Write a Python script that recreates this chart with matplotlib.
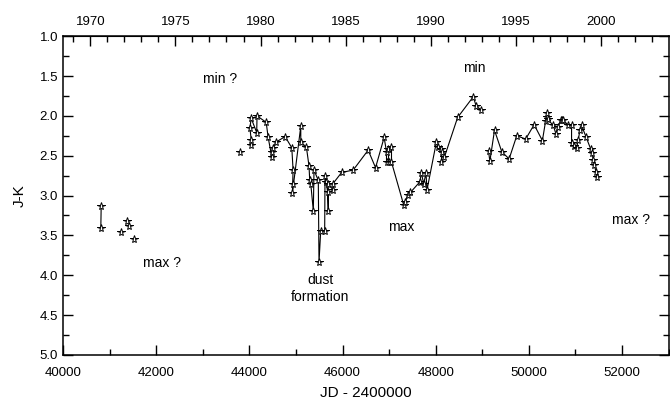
import numpy as np
import matplotlib
matplotlib.use("Agg")
import matplotlib.pyplot as plt
from matplotlib.ticker import MultipleLocator, FixedLocator, FormatStrFormatter

plt.rcParams['font.family'] = ['Liberation Sans', 'DejaVu Sans']

# J-K light curve, JD - 2400000
# first two points joined by a line
pair_jd = [40820, 40812]
pair_jk = [3.13, 3.41]

# lone points (not joined)
single_jd = [41237, 41372, 41414, 41530, 43805]
single_jk = [3.46, 3.32, 3.38, 3.55, 2.45]

# main joined run 1979-1993
main_jd = [44040, 44040, 44012, 44040, 44158, 44165, 44361, 44404, 44483,
           44496, 44517, 44569, 44768, 44911, 44939, 44930, 44924, 45104,
           45104, 45224, 45281, 45296, 45318, 45373, 45388, 45480, 45495,
           45532, 45617, 45624, 45652, 45680, 45694, 45694, 45795, 45795,
           45981, 46229, 46550, 46709, 46893, 46944, 46944, 46993, 46980,
           47051, 47051, 47314, 47350, 47400, 47458, 47657, 47693, 47742,
           47792, 47813, 48014, 48048, 48121, 48134, 48121, 48185, 48470,
           48806, 48870, 48969]
main_jk = [2.37, 2.30, 2.15, 2.03, 2.21, 2.00, 2.08, 2.27, 2.52,
           2.45, 2.40, 2.33, 2.26, 2.40, 2.68, 2.85, 2.97, 2.13,
           2.33, 2.39, 2.63, 2.81, 2.85, 3.19, 2.68, 2.81, 3.84,
           3.44, 3.44, 2.75, 2.83, 2.96, 3.19, 2.85, 2.93, 2.85,
           2.71, 2.68, 2.43, 2.65, 2.27, 2.45, 2.58, 2.58, 2.41,
           2.39, 2.58, 3.12, 3.08, 2.99, 2.96, 2.83, 2.72, 2.85,
           2.72, 2.93, 2.33, 2.39, 2.41, 2.45, 2.58, 2.52, 2.02,
           1.76, 1.88, 1.92]

# second joined run 1993-2000
late_jd = [49134, 49162, 49262, 49418, 49576, 49739, 49932, 50112, 50290,
           50360, 50381, 50396, 50400, 50524, 50582, 50631, 50681, 50710,
           50738, 50845, 50916, 50916, 50967, 51023, 51059, 51096, 51130,
           51224, 51323, 51359, 51381, 51408, 51438, 51466]
late_jk = [2.44, 2.57, 2.18, 2.45, 2.54, 2.25, 2.29, 2.11, 2.31,
           2.06, 2.01, 1.96, 2.04, 2.12, 2.23, 2.14, 2.05, 2.05,
           2.05, 2.12, 2.12, 2.34, 2.38, 2.40, 2.30, 2.18, 2.12,
           2.26, 2.41, 2.47, 2.55, 2.62, 2.70, 2.77]

notes = ["min ?", "min", "max ?", "dust\nformation", "max", "max ?"]
note_jd = [43370, 48830, 42130, 45520, 47250, 52200]
note_jk = [1.54, 1.40, 3.85, 4.17, 3.40, 3.31]

year_ticks = [1970, 1975, 1980, 1985, 1990, 1995, 2000]

fig = plt.figure(figsize=(6.7, 4.07), dpi=100)
ax = fig.add_axes([0.094, 0.128, 0.904, 0.783])

mk = dict(marker='*', ms=5.8, mfc='white', mec='black', mew=0.7,
          color='black', lw=0.8)
ax.plot(pair_jd, pair_jk, **mk)
ax.plot(single_jd, single_jk, ls='none', **mk)
ax.plot(main_jd, main_jk, **mk)
ax.plot(late_jd, late_jk, **mk)

for t, x, y in zip(notes, note_jd, note_jk):
    ax.text(x, y, t, ha='center', va='center', fontsize=10, linespacing=1.25)

ax.set_xlim(40000, 53000)
ax.set_ylim(5.0, 1.0)
ax.xaxis.set_major_locator(MultipleLocator(2000))
ax.xaxis.set_minor_locator(MultipleLocator(1000))
ax.yaxis.set_major_locator(MultipleLocator(0.5))
ax.yaxis.set_minor_locator(MultipleLocator(0.25))
ax.yaxis.set_major_formatter(FormatStrFormatter('%.1f'))
ax.tick_params(which='both', direction='in', labelsize=9.5, width=1.0,
               right=True)
ax.tick_params(which='major', length=7)
ax.tick_params(which='minor', length=4)
ax.tick_params(axis='x', pad=9)
for s in ax.spines.values():
    s.set_linewidth(1.1)

ax.set_xlabel('JD - 2400000', fontsize=11, labelpad=5)
ax.set_ylabel('J-K', fontsize=11, labelpad=9)

# calendar years on top
def jd2yr(jd):
    return 1970.0 + (np.asarray(jd) - 40587.5) / 365.25

def yr2jd(yr):
    return 40587.5 + (np.asarray(yr) - 1970.0) * 365.25

top = ax.secondary_xaxis('top', functions=(jd2yr, yr2jd))
top.xaxis.set_major_locator(FixedLocator(year_ticks))
top.xaxis.set_minor_locator(FixedLocator(list(range(1969, 2004))))
top.tick_params(which='both', direction='in', labelsize=9.5, width=1.0, pad=6)
top.tick_params(which='major', length=7)
top.tick_params(which='minor', length=4)

fig.savefig('out.png', dpi=100)
